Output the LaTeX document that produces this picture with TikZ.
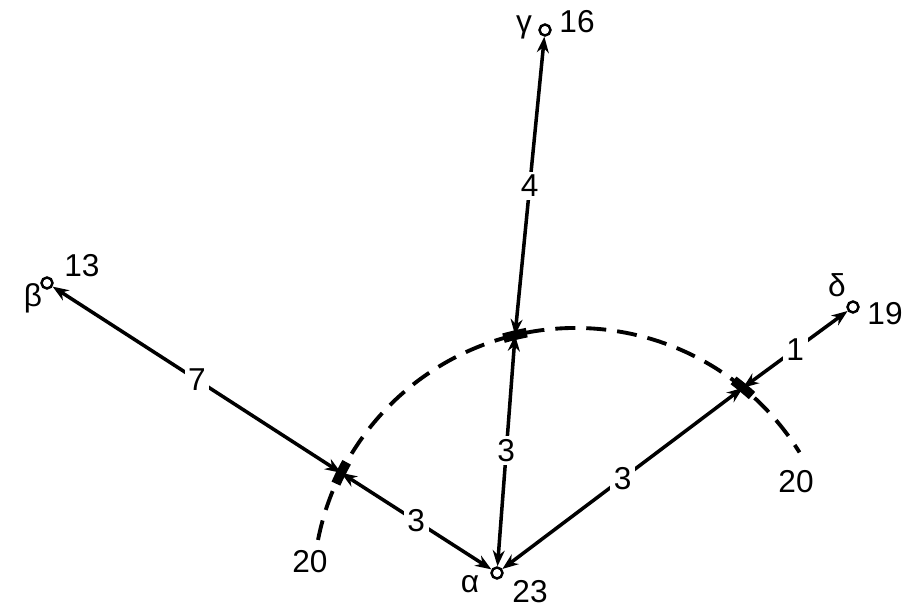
\documentclass[tikz,border=0pt]{standalone}
\usepackage{fontspec}
\setmainfont{Liberation Sans}
\usetikzlibrary{arrows.meta,calc}
\tikzset{
  vertex/.style={circle, draw, line width=1.4pt, fill=white, minimum size=2.2mm, inner sep=0pt},
  link/.style={{Stealth[length=3.2mm,width=2.4mm]}-{Stealth[length=3.2mm,width=2.4mm]}, line width=2pt},
  weight/.style={fill=white, inner sep=2pt, font=\fontsize{18}{20}\selectfont},
  tag/.style={inner sep=1pt, font=\fontsize{18}{20}\selectfont},
  front/.style={dash pattern=on 4mm off 2.2mm, line width=2.2pt},
  cut/.style={line width=5.5pt},
}
\begin{document}
\begin{tikzpicture}[x=0.2mm, y=0.2mm]
  \useasboundingbox (0,0) rectangle (909,607);
  % dashed front and the points where it cuts the links
  \coordinate (arcc) at (576,16);
  \coordinate (p1) at ($(arcc)+(153.3:263)$);
  \coordinate (p2) at ($(arcc)+(103.4:263)$);
  \coordinate (p3) at ($(arcc)+(50.6:263)$);
  \draw[front] ($(arcc)+(168.8:263)$) arc[start angle=168.8, end angle=31.8, radius=263];
  \foreach \lo/\hi in {150.7/155.9, 100.8/106.0, 48.0/53.2} {
    \draw[cut] ($(arcc)+(\hi:263)$) arc[start angle=\hi, end angle=\lo, radius=263];
  }
  % vertices
  \node[vertex] (beta) at (47,324) {};
  \node[vertex] (gamma) at (545,577) {};
  \node[vertex] (delta) at (853,300) {};
  \node[vertex] (alpha) at (497,34) {};
  \node[tag] (betaname) at (33,309) {β};
  \node[tag] (betaval) at (82,341) {13};
  \node[tag] (gammaname) at (524,580) {γ};
  \node[tag] (gammaval) at (577,585) {16};
  \node[tag] (deltaname) at (837,322) {δ};
  \node[tag] (deltaval) at (885,293) {19};
  \node[tag] (alphaname) at (470,23) {α};
  \node[tag] (alphaval) at (530,15) {23};
  \node[tag] (leftval) at (310,45) {20};
  \node[tag] (rightval) at (796,125) {20};
  % links
  \draw[link] (beta) -- node[weight]{7} (p1);
  \draw[link] (p1) -- node[weight]{3} (alpha);
  \draw[link] (gamma) -- node[weight]{4} (p2);
  \draw[link] (p2) -- node[weight]{3} (alpha);
  \draw[link] (p3) -- node[weight]{3} (alpha);
  \draw[link] (delta) -- node[weight]{1} (p3);
\end{tikzpicture}
\end{document}
